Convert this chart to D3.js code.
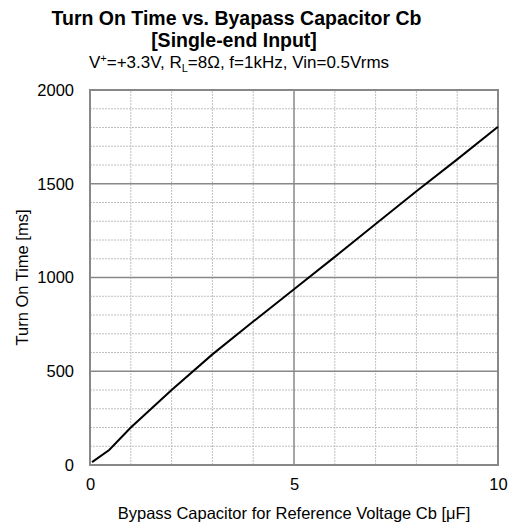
<!DOCTYPE html>
<html><head><meta charset="utf-8">
<script src="https://cdn.jsdelivr.net/npm/d3@7"></script>
<style>body{margin:0;background:#fff}svg{display:block}text{font-family:"Liberation Sans",Arial,sans-serif}</style>
</head><body>
<script>
const capacitance = [0.05, 0.47, 1, 2, 3, 4, 5, 6, 7, 8, 9, 10];
const turnOnTime = [15, 80, 200, 400, 590, 765, 937, 1110, 1285, 1460, 1630, 1804];
const xTicks = [0, 5, 10];
const yTicks = [0, 500, 1000, 1500, 2000];
const xMinor = [1,2,3,4,6,7,8,9];
const yMinor = [100,200,300,400,600,700,800,900,1100,1200,1300,1400,1600,1700,1800,1900];

const W = 510, H = 524;
const m = {l: 90, r: 12, t: 90, b: 59};
const svg = d3.select("body").append("svg").attr("width", W).attr("height", H);
const x = d3.scaleLinear().domain([0, 10]).range([m.l, W - m.r]);
const y = d3.scaleLinear().domain([0, 2000]).range([H - m.b, m.t]);

// minor grid
svg.append("g").selectAll("line").data(xMinor).join("line")
  .attr("x1", d => x(d)).attr("x2", d => x(d)).attr("y1", y(0)).attr("y2", y(2000))
  .attr("stroke", "#c0c0c0").attr("stroke-width", 1).attr("stroke-dasharray", "2,1");
svg.append("g").selectAll("line").data(yMinor).join("line")
  .attr("x1", x(0)).attr("x2", x(10)).attr("y1", d => y(d)).attr("y2", d => y(d))
  .attr("stroke", "#c0c0c0").attr("stroke-width", 1).attr("stroke-dasharray", "2,1");
// major grid
svg.append("g").selectAll("line").data([5]).join("line")
  .attr("x1", d => x(d)).attr("x2", d => x(d)).attr("y1", y(0)).attr("y2", y(2000))
  .attr("stroke", "#888").attr("stroke-width", 1.5);
svg.append("g").selectAll("line").data([500, 1000, 1500]).join("line")
  .attr("x1", x(0)).attr("x2", x(10)).attr("y1", d => y(d)).attr("y2", d => y(d))
  .attr("stroke", "#888").attr("stroke-width", 1.5);
// frame
svg.append("rect").attr("x", x(0)).attr("y", y(2000)).attr("width", x(10) - x(0)).attr("height", y(0) - y(2000))
  .attr("fill", "none").attr("stroke", "#888").attr("stroke-width", 2);

// axes
const xAxis = d3.axisBottom(x).tickValues(xTicks).tickSize(0).tickPadding(13).tickFormat(d3.format("d"));
const gx = svg.append("g").attr("transform", `translate(0,${y(0)})`).call(xAxis);
const yAxis = d3.axisLeft(y).tickValues(yTicks).tickSize(0).tickPadding(16).tickFormat(d3.format("d"));
const gy = svg.append("g").attr("transform", `translate(${x(0)},0)`).call(yAxis);
[gx, gy].forEach(g => {
  g.select(".domain").remove();
  g.attr("font-size", 16.5).attr("font-family", "Liberation Sans, Arial, sans-serif");
  g.selectAll("text").attr("fill", "#000");
});

// line
const line = d3.line().x((d, i) => x(capacitance[i])).y(d => y(d));
svg.append("path").datum(turnOnTime).attr("d", line).attr("fill", "none")
  .attr("stroke", "#000").attr("stroke-width", 2);

// titles
svg.append("text").attr("x", 236.5).attr("y", 25).attr("text-anchor", "middle")
  .attr("font-size", 19.5).attr("font-weight", "bold").text("Turn On Time vs. Byapass Capacitor Cb");
svg.append("text").attr("x", 234).attr("y", 47).attr("text-anchor", "middle")
  .attr("font-size", 19.5).attr("font-weight", "bold").text("[Single-end Input]");
const sub = svg.append("text").attr("x", 239).attr("y", 67.5).attr("text-anchor", "middle").attr("font-size", 17);
sub.append("tspan").text("V");
sub.append("tspan").attr("font-size", 11).attr("dy", -6).text("+");
sub.append("tspan").attr("dy", 6).text("=+3.3V, R");
sub.append("tspan").attr("font-size", 11).attr("dy", 4).text("L");
sub.append("tspan").attr("dy", -4).text("=8Ω, f=1kHz, Vin=0.5Vrms");

svg.append("text").attr("x", x(5)).attr("y", 519).attr("text-anchor", "middle").attr("font-size", 16.5)
  .text("Bypass Capacitor for Reference Voltage Cb [μF]");
svg.append("text").attr("transform", `translate(28,${(y(0) + y(2000)) / 2}) rotate(-90)`)
  .attr("text-anchor", "middle").attr("font-size", 16.5).text("Turn On Time [ms]");
</script>
</body></html>
